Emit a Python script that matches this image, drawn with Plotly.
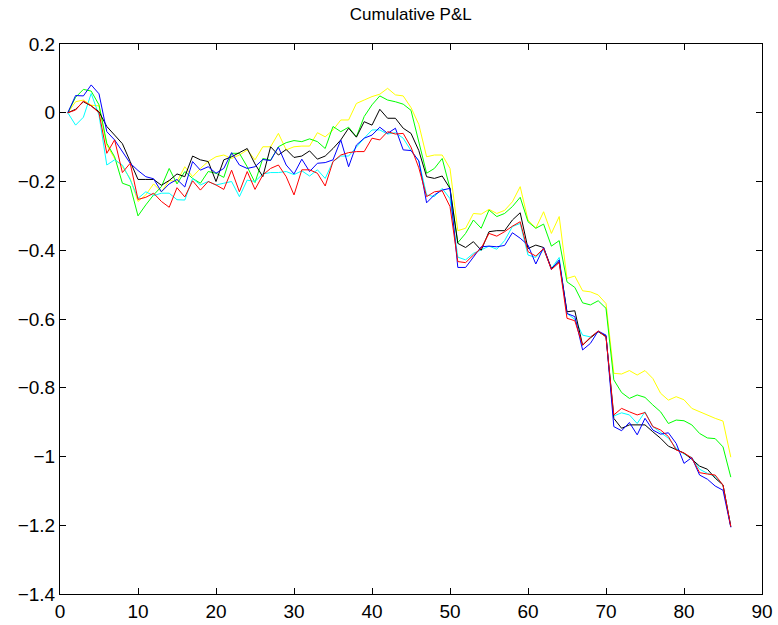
import plotly.graph_objects as go

# Trading periods 1..86
periods = list(range(1, 87))

pnl_yellow = [
    0, 0.032, 0.037, 0.022, 0.02, -0.094, -0.133, -0.157, -0.191, -0.258,
    -0.239, -0.207, -0.23, -0.197, -0.2, -0.157, -0.186, -0.162, -0.142, -0.128,
    -0.123, -0.133, -0.123, -0.108, -0.137, -0.099, -0.099, -0.06, -0.108, -0.099,
    -0.097, -0.097, -0.058, -0.07, -0.05, -0.021, -0.021, 0.027, 0.037, 0.047,
    0.054, 0.071, 0.052, 0.049, 0.015, -0.034, -0.128, -0.123, -0.123, -0.162,
    -0.343, -0.336, -0.293, -0.295, -0.281, -0.293, -0.284, -0.259, -0.215, -0.312,
    -0.336, -0.288, -0.351, -0.302, -0.482, -0.475, -0.518, -0.521, -0.53, -0.555,
    -0.758, -0.76, -0.75, -0.763, -0.75, -0.773, -0.816, -0.836, -0.826, -0.835,
    -0.86, -0.87, -0.879, -0.889, -0.897, -1.002,
]

pnl_green = [
    0, 0.045, 0.068, 0.063, 0.023, -0.089, -0.128, -0.205, -0.213, -0.3,
    -0.268, -0.239, -0.215, -0.162, -0.207, -0.171, -0.191, -0.205, -0.171, -0.176,
    -0.188, -0.118, -0.118, -0.157, -0.203, -0.133, -0.138, -0.099, -0.087, -0.081,
    -0.084, -0.076, -0.084, -0.104, -0.04, -0.055, -0.042, -0.07, -0.011, 0.023,
    0.049, 0.037, 0.032, 0.025, 0.007, -0.082, -0.176, -0.162, -0.133, -0.22,
    -0.378, -0.351, -0.312, -0.336, -0.283, -0.302, -0.293, -0.273, -0.246, -0.317,
    -0.336, -0.324, -0.388, -0.372, -0.492, -0.508, -0.553, -0.559, -0.547, -0.569,
    -0.777, -0.814, -0.831, -0.821, -0.828, -0.85, -0.87, -0.904, -0.894, -0.896,
    -0.908, -0.933, -0.946, -0.948, -0.972, -1.06,
]

pnl_black = [
    0, 0.01, 0.032, 0.02, 0.003, -0.04, -0.065, -0.09, -0.142, -0.194,
    -0.194, -0.194, -0.211, -0.197, -0.178, -0.186, -0.126, -0.137, -0.142, -0.2,
    -0.137, -0.128, -0.116, -0.104, -0.149, -0.186, -0.099, -0.123, -0.107, -0.13,
    -0.126, -0.111, -0.135, -0.126, -0.104, -0.079, -0.045, -0.071, -0.026, -0.036,
    0.01, -0.016, -0.016, -0.045, -0.06, -0.11, -0.186, -0.191, -0.184, -0.22,
    -0.38, -0.392, -0.375, -0.4, -0.346, -0.343, -0.343, -0.312, -0.291, -0.395,
    -0.385, -0.392, -0.453, -0.433, -0.579, -0.576, -0.676, -0.655, -0.637, -0.65,
    -0.889, -0.918, -0.908, -0.908, -0.908, -0.928, -0.947, -0.97, -0.981, -0.99,
    -1.008, -1.028, -1.037, -1.063, -1.083, -1.204,
]

pnl_cyan = [
    0, -0.036, -0.013, 0.056, -0.007, -0.152, -0.137, -0.152, -0.195, -0.249,
    -0.23, -0.241, -0.234, -0.234, -0.253, -0.254, -0.191, -0.21, -0.2, -0.21,
    -0.205, -0.2, -0.244, -0.196, -0.2, -0.178, -0.174, -0.174, -0.171, -0.18,
    -0.169, -0.184, -0.166, -0.191, -0.142, -0.126, -0.126, -0.099, -0.074, -0.05,
    -0.05, -0.062, -0.058, -0.074, -0.11, -0.14, -0.239, -0.244, -0.22, -0.25,
    -0.42, -0.428, -0.409, -0.399, -0.388, -0.397, -0.372, -0.331, -0.322, -0.414,
    -0.421, -0.398, -0.453, -0.421, -0.584, -0.601, -0.647, -0.652, -0.637, -0.65,
    -0.882, -0.873, -0.879, -0.904, -0.87, -0.913, -0.93, -0.947, -0.976, -0.993,
    -1.003, -1.037, -1.049, -1.058, -1.083, -1.204,
]

pnl_blue = [
    0, 0.05, 0.049, 0.081, 0.055, -0.055, -0.079, -0.115, -0.147, -0.168,
    -0.186, -0.192, -0.23, -0.207, -0.194, -0.216, -0.142, -0.167, -0.157, -0.176,
    -0.162, -0.116, -0.152, -0.162, -0.157, -0.136, -0.139, -0.1, -0.152, -0.178,
    -0.135, -0.171, -0.147, -0.145, -0.137, -0.079, -0.157, -0.094, -0.074, -0.065,
    -0.042, -0.06, -0.045, -0.108, -0.11, -0.14, -0.262, -0.239, -0.225, -0.22,
    -0.45, -0.45, -0.419, -0.39, -0.388, -0.39, -0.386, -0.349, -0.365, -0.385,
    -0.44, -0.392, -0.456, -0.428, -0.584, -0.593, -0.69, -0.671, -0.635, -0.647,
    -0.913, -0.925, -0.901, -0.937, -0.889, -0.923, -0.935, -0.931, -0.962, -1.02,
    -1.003, -1.054, -1.066, -1.086, -1.098, -1.206,
]

pnl_red = [
    0, 0.008, 0.034, 0.02, 0, -0.118, -0.079, -0.174, -0.147, -0.252,
    -0.246, -0.234, -0.258, -0.275, -0.218, -0.245, -0.198, -0.225, -0.2, -0.21,
    -0.223, -0.167, -0.23, -0.171, -0.223, -0.181, -0.162, -0.152, -0.186, -0.239,
    -0.166, -0.166, -0.176, -0.213, -0.142, -0.123, -0.116, -0.113, -0.113, -0.074,
    -0.079, -0.055, -0.062, -0.06, -0.1, -0.16, -0.244, -0.23, -0.227, -0.273,
    -0.433, -0.436, -0.414, -0.394, -0.351, -0.359, -0.346, -0.33, -0.317, -0.404,
    -0.417, -0.395, -0.456, -0.436, -0.598, -0.605, -0.676, -0.653, -0.635, -0.653,
    -0.879, -0.86, -0.87, -0.879, -0.872, -0.913, -0.923, -0.942, -0.981, -0.99,
    -1.004, -1.047, -1.051, -1.054, -1.083, -1.204,
]

series = [
    (pnl_yellow, "#ffff00"),
    (pnl_green, "#00ff00"),
    (pnl_cyan, "#00ffff"),
    (pnl_black, "#000000"),
    (pnl_blue, "#0000ff"),
    (pnl_red, "#ff0000"),
]

fig = go.Figure()
for values, color in series:
    fig.add_trace(go.Scatter(
        x=periods, y=values, mode="lines",
        line=dict(color=color, width=1),
        showlegend=False, hoverinfo="skip",
    ))

axis_style = dict(
    showgrid=False, zeroline=False, automargin=False,
    showline=True, linecolor="black", linewidth=1,
    mirror="ticks", ticks="inside", ticklen=6, tickcolor="black", tickwidth=1,
    tickfont=dict(family="Liberation Sans, Arial, sans-serif", size=19, color="black"),
)

fig.update_xaxes(range=[0, 90], tick0=0, dtick=10, **axis_style)
fig.update_yaxes(range=[-1.4, 0.2], tick0=0, dtick=0.2, **axis_style)

fig.update_layout(
    width=778, height=625,
    margin=dict(l=60, r=16, t=44, b=31),
    paper_bgcolor="white", plot_bgcolor="white",
    title=dict(
        text="Cumulative P&L",
        x=0.528, xanchor="center", y=0.977, yanchor="middle",
        font=dict(family="Liberation Sans, Arial, sans-serif", size=17, color="black"),
    ),
)

fig.write_html("out.html")
